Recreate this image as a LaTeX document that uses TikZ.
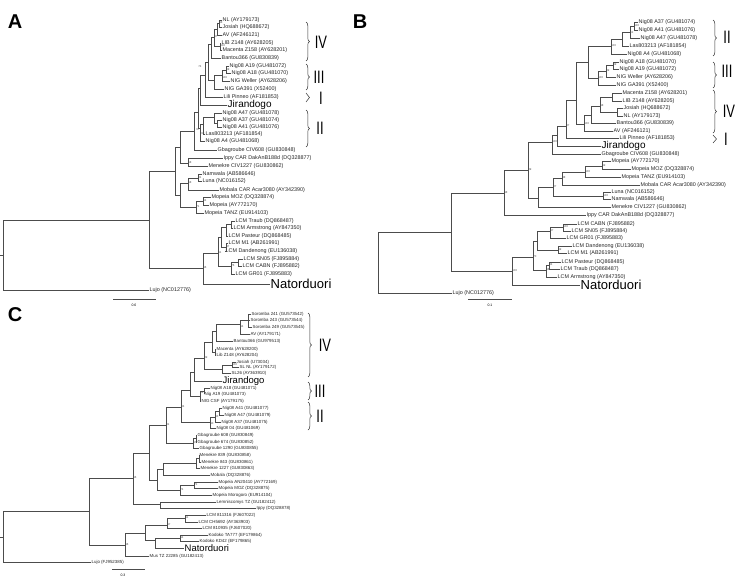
\documentclass[tikz,border=0pt]{standalone}
\usepackage{fontspec}
\setmainfont{Liberation Sans}
\usetikzlibrary{decorations.pathreplacing}
\newcommand\labfont{\fontsize{5.4}{6}\selectfont}
\newcommand\labcfont{\fontsize{4.4}{5}\selectfont}
\newcommand\bsfont{\fontsize{2.8}{3}\selectfont}
\newcommand\panfont{\fontsize{20}{20}\selectfont\bfseries}
\newcommand\romfont{\fontsize{18}{18}\selectfont}
\newcommand\tk[2]{\draw[br] (#1) |- (#2);}
\newcommand\tl[2]{\draw[br] (#1) |- (#2.west);}
\newcommand\rom[1]{\scalebox{0.72}[1]{#1}}
\tikzset{
 br/.style={draw=black!70, line width=0.6pt},
 lab/.style={anchor=west, inner sep=0.5pt, font=\labfont, text=black!85},
 labc/.style={anchor=west, inner sep=0.5pt, font=\labcfont, text=black!85},
 bigj/.style={anchor=west, inner sep=0.5pt, font=\fontsize{10}{10}\selectfont},
 bign/.style={anchor=west, inner sep=0.5pt, font=\fontsize{13}{13}\selectfont},
 bigc/.style={anchor=west, inner sep=0.5pt, font=\fontsize{9.5}{10}\selectfont},
 bs/.style={anchor=west, inner sep=0.2pt, font=\bsfont, text=black!70},
 rom/.style={font=\romfont, inner sep=0pt},
 brc/.style={decorate, decoration={brace, amplitude=3.5pt}, draw=black!80, line width=0.5pt},
 pan/.style={font=\panfont, inner sep=0pt},
 sc/.style={font=\fontsize{3.5}{4}\selectfont, inner sep=0pt}
}
\begin{document}
\begin{tikzpicture}[x=1pt,y=-1pt]
\useasboundingbox (0,0) rectangle (750,578);
\fill[white] (0,0) rectangle (750,578);
%================ PANEL A =================
\node[pan] (pA) at (15,22) {A};
\node[lab] (aT1) at (222,20) {NL (AY179173)};
\node[lab] (aT2) at (222,27) {Josiah (HQ688672)};
\node[lab] (aT3) at (222,35) {AV (AF246121)};
\node[lab] (aT4) at (221,43) {LIB Z148 (AY628205)};
\node[lab] (aT5) at (222,50) {Macenta Z158 (AY628201)};
\node[lab] (aT6) at (221,58) {Bantou366 (GU830839)};
\node[lab] (aT7) at (229,66) {Nig08 A19 (GU481072)};
\node[lab] (aT8) at (231,73) {Nig08 A18 (GU481070)};
\node[lab] (aT9) at (230,81) {NIG Weller (AY628206)};
\node[lab] (aT10) at (224,89) {NIG GA391 (X52400)};
\node[lab] (aT11) at (223,97) {Lili Pinneo (AF181853)};
\node[bigj] (aT12) at (227,105) {Jirandogo};
\node[lab] (aT13) at (222,113) {Nig08 A47 (GU481078)};
\node[lab] (aT14) at (222,120) {Nig08 A37 (GU481074)};
\node[lab] (aT15) at (222,127) {Nig08 A41 (GU481076)};
\node[lab] (aT16) at (205,134) {Las803213 (AF181854)};
\node[lab] (aT17) at (205,141) {Nig08 A4 (GU481068)};
\node[lab] (aT18) at (217,150) {Gbagroube CIV608 (GU830848)};
\node[lab] (aT19) at (223,158) {Ippy CAR DakAnB188d (DQ328877)};
\node[lab] (aT20) at (208,166) {Menekre CIV1227 (GU830862)};
\node[lab] (aT21) at (202,174) {Namwala (AB586646)};
\node[lab] (aT22) at (202,181) {Luna (NC016152)};
\node[lab] (aT23) at (219,190) {Mobala CAR Acar3080 (AY342390)};
\node[lab] (aT24) at (211,197) {Mopeia MOZ (DQ328874)};
\node[lab] (aT25) at (209,205) {Mopeia (AY772170)};
\node[lab] (aT26) at (204,213) {Mopeia TANZ (EU914103)};
\node[lab] (aT27) at (235,221) {LCM Traub (DQ868487)};
\node[lab] (aT28) at (233,228) {LCM Armstrong (AY847350)};
\node[lab] (aT29) at (228,236) {LCM Pasteur (DQ868485)};
\node[lab] (aT30) at (228,243) {LCM M1 (AB261991)};
\node[lab] (aT31) at (225,251) {LCM Dandenong (EU136038)};
\node[lab] (aT32) at (243,259) {LCM SN05 (FJ895884)};
\node[lab] (aT33) at (242,266) {LCM CABN (FJ895882)};
\node[lab] (aT34) at (235,274) {LCM GR01 (FJ895883)};
\node[bign] (aT35) at (270,284) {Natorduori};
\node[lab] (aT36) at (149,290) {Lujo (NC012776)};
\coordinate (aS) at (0,255);
\coordinate (aR) at (3,255);
\coordinate (aN1) at (149,220);
\coordinate (aOW) at (175,171);
\coordinate (aA1) at (180,147);
\coordinate (aA2) at (194,131);
\coordinate (aA3) at (198,112);
\coordinate (aJ) at (200,88);
\coordinate (aK) at (205,75);
\coordinate (aL) at (208,62);
\coordinate (aIV) at (211,44);
\coordinate (aIVa) at (214,37);
\coordinate (aIVb) at (217,29);
\coordinate (aNJ) at (219,23);
\coordinate (aLM) at (220,46);
\coordinate (aIII) at (214,80);
\coordinate (aIIIa) at (222,75);
\coordinate (aIIIb) at (226,70);
\coordinate (aII) at (200,128);
\coordinate (aIIb) at (203,124);
\coordinate (aIIc) at (214,117);
\coordinate (aIId) at (217,123);
\coordinate (aIM) at (188,163);
\coordinate (aMop) at (180,195);
\coordinate (aMNL) at (188,183);
\coordinate (aNL2) at (198,178);
\coordinate (aMM) at (196,207);
\coordinate (aMM2) at (203,201);
\coordinate (aLN) at (203,268);
\coordinate (aLCM) at (218,253);
\coordinate (aLA) at (221,237);
\coordinate (aLA1) at (226,227);
\coordinate (aTA) at (231,224);
\coordinate (aLA2) at (226,247);
\coordinate (aLB) at (231,266);
\coordinate (aSC) at (238,262);
\draw[br] (aS) -- (aR);
\tk{aR}{aN1} \tl{aR}{aT36}
\tk{aN1}{aOW} \tk{aN1}{aLN}
\tk{aOW}{aA1} \tk{aOW}{aMop}
\tk{aA1}{aA2} \tk{aA1}{aIM}
\tk{aA2}{aA3} \tl{aA2}{aT18}
\tk{aA3}{aJ} \tk{aA3}{aII}
\tk{aJ}{aK} \tl{aJ}{aT12}
\tk{aK}{aL} \tl{aK}{aT11}
\tk{aL}{aIV} \tk{aL}{aIII}
\tk{aIV}{aIVa} \tl{aIV}{aT6}
\tk{aIVa}{aIVb} \tk{aIVa}{aLM}
\tk{aIVb}{aNJ} \tl{aIVb}{aT3}
\tl{aNJ}{aT1} \tl{aNJ}{aT2}
\tl{aLM}{aT4} \tl{aLM}{aT5}
\tk{aIII}{aIIIa} \tl{aIII}{aT10}
\tk{aIIIa}{aIIIb} \tl{aIIIa}{aT9}
\tl{aIIIb}{aT7} \tl{aIIIb}{aT8}
\tk{aII}{aIIb} \tl{aII}{aT17}
\tk{aIIb}{aIIc} \tl{aIIb}{aT16}
\tl{aIIc}{aT13} \tk{aIIc}{aIId}
\tl{aIId}{aT14} \tl{aIId}{aT15}
\tl{aIM}{aT19} \tl{aIM}{aT20}
\tk{aMop}{aMNL} \tk{aMop}{aMM}
\tk{aMNL}{aNL2} \tl{aMNL}{aT23}
\tl{aNL2}{aT21} \tl{aNL2}{aT22}
\tk{aMM}{aMM2} \tl{aMM}{aT26}
\tl{aMM2}{aT24} \tl{aMM2}{aT25}
\tk{aLN}{aLCM} \tl{aLN}{aT35}
\tk{aLCM}{aLA} \tk{aLCM}{aLB}
\tk{aLA}{aLA1} \tk{aLA}{aLA2}
\tk{aLA1}{aTA} \tl{aLA1}{aT29}
\tl{aTA}{aT27} \tl{aTA}{aT28}
\tl{aLA2}{aT30} \tl{aLA2}{aT31}
\tk{aLB}{aSC} \tl{aLB}{aT34}
\tl{aSC}{aT32} \tl{aSC}{aT33}
% bootstrap A
\node[bs] (abs1) at (219,23) {98};
\node[bs] (abs2) at (214,37) {97};
\node[bs] (abs3) at (220,46) {100};
\node[bs] (abs4) at (198,67) {74};
\node[bs] (abs5) at (226,70) {99};
\node[bs] (abs6) at (222,78) {100};
\node[bs] (abs7) at (196,130) {97};
\node[bs] (abs8) at (201,134) {99};
\node[bs] (abs9) at (188,163) {58};
\node[bs] (abs10) at (198,178) {81};
\node[bs] (abs11) at (188,183) {58};
\node[bs] (abs12) at (203,201) {64};
\node[bs] (abs13) at (196,207) {71};
\node[bs] (abs14) at (218,253) {91};
\node[bs] (abs15) at (226,247) {97};
\node[bs] (abs16) at (231,266) {76};
\node[bs] (abs17) at (203,268) {96};
% scale A
\coordinate (asc1) at (113,299); \coordinate (asc2) at (156,299);
\draw[br] (asc1) -- (asc2);
\node[sc] (asl) at (134,305) {0.6};
% braces A
\coordinate (abIVa) at (306,22); \coordinate (abIVb) at (306,61);
\coordinate (abIIIa) at (306,64); \coordinate (abIIIb) at (306,90);
\coordinate (abIa) at (306,93); \coordinate (abIb) at (306,102);
\coordinate (abIIa) at (306,110); \coordinate (abIIb) at (306,147);
\draw[brc] (abIVa) -- (abIVb);
\draw[brc] (abIIIa) -- (abIIIb);
\draw[brc] (abIa) -- (abIb);
\draw[brc] (abIIa) -- (abIIb);
\node[rom] (arIV) at (321,42) {\rom{IV}};
\node[rom] (arIII) at (319,77) {\rom{III}};
\node[rom] (arI) at (321,98) {\rom{I}};
\node[rom] (arII) at (320,128) {\rom{II}};
%================ PANEL B =================
\node[pan] (pB) at (360,22) {B};
\node[lab] (bT1) at (638,22) {Nig08 A37 (GU481074)};
\node[lab] (bT2) at (638,30) {Nig08 A41 (GU481076)};
\node[lab] (bT3) at (640,38) {Nig08 A47 (GU481078)};
\node[lab] (bT4) at (629,46) {Las803213 (AF181854)};
\node[lab] (bT5) at (627,54) {Nig08 A4 (GU481068)};
\node[lab] (bT6) at (619,62) {Nig08 A18 (GU481070)};
\node[lab] (bT7) at (619,69) {Nig08 A19 (GU481072)};
\node[lab] (bT8) at (616,77) {NIG Weller (AY628206)};
\node[lab] (bT9) at (616,85) {NIG GA391 (X52400)};
\node[lab] (bT10) at (622,93) {Macenta Z158 (AY628201)};
\node[lab] (bT11) at (622,101) {LIB Z148 (AY628205)};
\node[lab] (bT12) at (623,108) {Josiah (HQ688672)};
\node[lab] (bT13) at (623,116) {NL (AY179173)};
\node[lab] (bT14) at (616,123) {Bantou366 (GU830839)};
\node[lab] (bT15) at (613,131) {AV (AF246121)};
\node[lab] (bT16) at (619,138) {Lili Pinneo (AF181853)};
\node[bigj] (bT17) at (601,146) {Jirandogo};
\node[lab] (bT18) at (601,154) {Gbagroube CIV608 (GU830848)};
\node[lab] (bT19) at (611,161) {Mopeia (AY772170)};
\node[lab] (bT20) at (631,169) {Mopeia MOZ (DQ328874)};
\node[lab] (bT21) at (621,177) {Mopeia TANZ (EU914103)};
\node[lab] (bT22) at (640,185) {Mobala CAR Acar3080 (AY342390)};
\node[lab] (bT23) at (611,192) {Luna (NC016152)};
\node[lab] (bT24) at (611,199) {Namwala (AB586646)};
\node[lab] (bT25) at (611,207) {Menekre CIV1227 (GU830862)};
\node[lab] (bT26) at (586,215) {Ippy CAR DakAnB188d (DQ328877)};
\node[lab] (bT27) at (577,224) {LCM CABN (FJ895882)};
\node[lab] (bT28) at (571,231) {LCM SN05 (FJ895884)};
\node[lab] (bT29) at (566,238) {LCM GR01 (FJ895883)};
\node[lab] (bT30) at (572,246) {LCM Dandenong (EU136038)};
\node[lab] (bT31) at (567,253) {LCM M1 (AB261991)};
\node[lab] (bT32) at (561,262) {LCM Pasteur (DQ868485)};
\node[lab] (bT33) at (560,269) {LCM Traub (DQ868487)};
\node[lab] (bT34) at (557,277) {LCM Armstrong (AY847350)};
\node[bign] (bT35) at (580,285) {Natorduori};
\node[lab] (bT36) at (452,293) {Lujo (NC012776)};
\coordinate (bR) at (378,262);
\coordinate (bMain) at (451,232);
\coordinate (bOW) at (504,193);
\coordinate (b89) at (528,170);
\coordinate (bLJG) at (552,142);
\coordinate (bLJ) at (557,135);
\coordinate (bLas) at (566,126);
\coordinate (bL1x) at (576,100);
\coordinate (bIIIII) at (588,62);
\coordinate (bII) at (611,46);
\coordinate (bIIa) at (622,39);
\coordinate (bIIb) at (630,32);
\coordinate (bIIc) at (634,26);
\coordinate (bIII) at (598,78);
\coordinate (bIIIa) at (606,71);
\coordinate (bIIIb) at (613,65);
\coordinate (bIVAV) at (584,124);
\coordinate (bIV) at (591,115);
\coordinate (bIVa) at (600,106);
\coordinate (bML) at (612,97);
\coordinate (bJN) at (617,112);
\coordinate (bMop) at (538,198);
\coordinate (bMop1) at (553,187);
\coordinate (bMop2) at (562,178);
\coordinate (bMopA) at (585,172);
\coordinate (bMopB) at (602,166);
\coordinate (bLN2) at (603,196);
\coordinate (bLN) at (512,271);
\coordinate (bLCM) at (533,257);
\coordinate (bLCa) at (537,241);
\coordinate (b87) at (550,231);
\coordinate (bCS) at (563,227);
\coordinate (bDM) at (558,250);
\coordinate (bPTA) at (546,270);
\coordinate (bPT) at (549,265);
\tk{bR}{bMain} \tl{bR}{bT36}
\tk{bMain}{bOW} \tk{bMain}{bLN}
\tk{bOW}{b89} \tl{bOW}{bT26}
\tk{b89}{bLJG} \tk{b89}{bMop}
\tk{bLJG}{bLJ} \tl{bLJG}{bT18}
\tk{bLJ}{bLas} \tl{bLJ}{bT17}
\tk{bLas}{bL1x} \tl{bLas}{bT16}
\tk{bL1x}{bIIIII} \tk{bL1x}{bIVAV}
\tk{bIIIII}{bII} \tk{bIIIII}{bIII}
\tk{bII}{bIIa} \tl{bII}{bT5}
\tk{bIIa}{bIIb} \tl{bIIa}{bT4}
\tk{bIIb}{bIIc} \tl{bIIb}{bT3}
\tl{bIIc}{bT1} \tl{bIIc}{bT2}
\tk{bIII}{bIIIa} \tl{bIII}{bT9}
\tk{bIIIa}{bIIIb} \tl{bIIIa}{bT8}
\tl{bIIIb}{bT6} \tl{bIIIb}{bT7}
\tk{bIVAV}{bIV} \tl{bIVAV}{bT15}
\tk{bIV}{bIVa} \tl{bIV}{bT14}
\tk{bIVa}{bML} \tk{bIVa}{bJN}
\tl{bML}{bT10} \tl{bML}{bT11}
\tl{bJN}{bT12} \tl{bJN}{bT13}
\tk{bMop}{bMop1} \tl{bMop}{bT25}
\tk{bMop1}{bMop2} \tk{bMop1}{bLN2}
\tk{bMop2}{bMopA} \tl{bMop2}{bT22}
\tk{bMopA}{bMopB} \tl{bMopA}{bT21}
\tl{bMopB}{bT19} \tl{bMopB}{bT20}
\tl{bLN2}{bT23} \tl{bLN2}{bT24}
\tk{bLN}{bLCM} \tl{bLN}{bT35}
\tk{bLCM}{bLCa} \tk{bLCM}{bPTA}
\tk{bLCa}{b87} \tk{bLCa}{bDM}
\tk{b87}{bCS} \tl{b87}{bT29}
\tl{bCS}{bT27} \tl{bCS}{bT28}
\tl{bDM}{bT30} \tl{bDM}{bT31}
\tk{bPTA}{bPT} \tl{bPTA}{bT34}
\tl{bPT}{bT32} \tl{bPT}{bT33}
% bootstrap B
\node[bs] (bbs1) at (634,26) {100};
\node[bs] (bbs2) at (630,33) {51};
\node[bs] (bbs3) at (611,46) {100};
\node[bs] (bbs4) at (613,65) {99};
\node[bs] (bbs5) at (606,71) {89};
\node[bs] (bbs6) at (598,78) {100};
\node[bs] (bbs7) at (600,106) {98};
\node[bs] (bbs8) at (584,124) {100};
\node[bs] (bbs9) at (566,126) {87};
\node[bs] (bbs10) at (552,142) {100};
\node[bs] (bbs11) at (528,170) {89};
\node[bs] (bbs12) at (504,193) {98};
\node[bs] (bbs13) at (602,166) {99};
\node[bs] (bbs14) at (585,172) {100};
\node[bs] (bbs15) at (562,178) {38};
\node[bs] (bbs16) at (553,187) {87};
\node[bs] (bbs17) at (603,196) {100};
\node[bs] (bbs18) at (563,227) {100};
\node[bs] (bbs19) at (550,231) {97};
\node[bs] (bbs20) at (558,250) {99};
\node[bs] (bbs21) at (533,257) {70};
\node[bs] (bbs22) at (549,265) {84};
\node[bs] (bbs23) at (546,270) {96};
\node[bs] (bbs24) at (512,271) {100};
% scale B
\coordinate (bsc1) at (468,299); \coordinate (bsc2) at (512,299);
\draw[br] (bsc1) -- (bsc2);
\node[sc] (bsl) at (490,305) {0.1};
% braces B
\coordinate (bbIIa) at (713,20); \coordinate (bbIIb) at (713,56);
\coordinate (bbIIIa) at (713,62); \coordinate (bbIIIb) at (713,88);
\coordinate (bbIVa) at (713,90); \coordinate (bbIVb) at (713,133);
\coordinate (bbIa) at (713,135); \coordinate (bbIb) at (713,143);
\draw[brc] (bbIIa) -- (bbIIb);
\draw[brc] (bbIIIa) -- (bbIIIb);
\draw[brc] (bbIVa) -- (bbIVb);
\draw[brc] (bbIa) -- (bbIb);
\node[rom] (brII) at (727,37) {\rom{II}};
\node[rom] (brIII) at (727,71) {\rom{III}};
\node[rom] (brIV) at (729,111) {\rom{IV}};
\node[rom] (brI) at (726,139) {\rom{I}};
%================ PANEL C =================
\node[pan] (pC) at (15,315) {C};
\node[labc] (cT1) at (251,314) {Soromba 241 (GU573542)};
\node[labc] (cT2) at (250,320) {Soromba 243 (GU573544)};
\node[labc] (cT3) at (252,327) {Soromba 249 (GU573545)};
\node[labc] (cT4) at (250,334) {AV (AY179171)};
\node[labc] (cT5) at (233,341) {Bantou366 (GU979513)};
\node[labc] (cT6) at (216,349) {Macenta (AY628200)};
\node[labc] (cT7) at (216,355) {Lib Z148 (AY628204)};
\node[labc] (cT8) at (236,362) {Josiah (U73034)};
\node[labc] (cT9) at (239,367) {SL NL (AY179172)};
\node[labc] (cT10) at (231,373) {SL26 (AY363910)};
\node[bigc] (cT11) at (222,381) {Jirandogo};
\node[labc] (cT12) at (210,388) {Nig08 A18 (GU481071)};
\node[labc] (cT13) at (204,394) {Nig A19 (GU481073)};
\node[labc] (cT14) at (201,401) {NIG CSF (AY179175)};
\node[labc] (cT15) at (222,408) {Nig08 A41 (GU481077)};
\node[labc] (cT16) at (224,415) {Nig08 A47 (GU481079)};
\node[labc] (cT17) at (221,422) {Nig08 A37 (GU481075)};
\node[labc] (cT18) at (216,428) {Nig08 04 (GU481069)};
\node[labc] (cT19) at (197,435) {Gbagroube 608 (GU830849)};
\node[labc] (cT20) at (197,442) {Gbagroube 674 (GU830852)};
\node[labc] (cT21) at (199,448) {Gbagroube 1290 (GU830855)};
\node[labc] (cT22) at (199,455) {Menekre 839 (GU830858)};
\node[labc] (cT23) at (201,462) {Menekre 843 (GU830861)};
\node[labc] (cT24) at (200,468) {Menekre 1227 (GU830863)};
\node[labc] (cT25) at (210,475) {Mobala (DQ328876)};
\node[labc] (cT26) at (218,482) {Mopeia AN20410 (AY772169)};
\node[labc] (cT27) at (218,488) {Mopeia MOZ (DQ328875)};
\node[labc] (cT28) at (212,495) {Mopeia Morogoro (EU914104)};
\node[labc] (cT29) at (216,502) {Lemniscomys TZ (GU182412)};
\node[labc] (cT30) at (256,508) {Ippy (DQ328878)};
\node[labc] (cT31) at (206,515) {LCM 811316 (FJ607022)};
\node[labc] (cT32) at (198,522) {LCM CH5692 (AY363903)};
\node[labc] (cT33) at (202,528) {LCM 810935 (FJ607020)};
\node[labc] (cT34) at (208,535) {Kodoko TA777 (EF179864)};
\node[labc] (cT35) at (199,541) {Kodoko KD42 (EF179865)};
\node[bigc] (cT36) at (184,548) {Natorduori};
\node[labc] (cT37) at (149,556) {Mus TZ 22285 (GU182413)};
\node[labc] (cT38) at (91,562) {Lujo (FJ952385)};
\coordinate (cS) at (0,537);
\coordinate (cR) at (3,537);
\coordinate (cMain) at (89,511);
\coordinate (cOW) at (133,478);
\coordinate (cLI) at (160,504);
\coordinate (c1) at (149,453);
\coordinate (c2) at (166,425);
\coordinate (cGb) at (193,443);
\coordinate (cGb2) at (196,438);
\coordinate (c3) at (157,480);
\coordinate (cMM) at (163,469);
\coordinate (cMen) at (196,463);
\coordinate (cMen2) at (199,458);
\coordinate (cMop) at (180,490);
\coordinate (cMopA) at (194,485);
\coordinate (cLM) at (125,545);
\coordinate (cLK) at (145,533);
\coordinate (cLCM) at (167,525);
\coordinate (cLCMa) at (185,518);
\coordinate (cKN) at (155,540);
\coordinate (cKod) at (180,538);
\coordinate (cLas) at (181,407);
\coordinate (cII) at (210,422);
\coordinate (cIIa) at (215,417);
\coordinate (cIIb) at (219,411);
\coordinate (cLin) at (190,390);
\coordinate (cIII) at (200,396);
\coordinate (cIIIa) at (204,391);
\coordinate (cIVJ) at (194,372);
\coordinate (cIV) at (204,358);
\coordinate (cSL) at (222,369);
\coordinate (cJS) at (232,365);
\coordinate (cIVa) at (212,342);
\coordinate (cML) at (215,352);
\coordinate (cIVb) at (216,331);
\coordinate (cSA) at (240,324);
\coordinate (cSor) at (248,320);
\draw[br] (cS) -- (cR);
\tk{cR}{cMain} \tl{cR}{cT38}
\tk{cMain}{cOW} \tk{cMain}{cLM}
\tk{cOW}{c1} \tk{cOW}{cLI}
\tl{cLI}{cT29} \tl{cLI}{cT30}
\tk{c1}{c2} \tk{c1}{c3}
\tk{c2}{cLas} \tk{c2}{cGb}
\tk{cGb}{cGb2} \tl{cGb}{cT21}
\tl{cGb2}{cT19} \tl{cGb2}{cT20}
\tk{c3}{cMM} \tk{c3}{cMop}
\tk{cMM}{cMen} \tl{cMM}{cT25}
\tk{cMen}{cMen2} \tl{cMen}{cT24}
\tl{cMen2}{cT22} \tl{cMen2}{cT23}
\tk{cMop}{cMopA} \tl{cMop}{cT28}
\tl{cMopA}{cT26} \tl{cMopA}{cT27}
\tk{cLM}{cLK} \tl{cLM}{cT37}
\tk{cLK}{cLCM} \tk{cLK}{cKN}
\tk{cLCM}{cLCMa} \tl{cLCM}{cT33}
\tl{cLCMa}{cT31} \tl{cLCMa}{cT32}
\tk{cKN}{cKod} \tl{cKN}{cT36}
\tl{cKod}{cT34} \tl{cKod}{cT35}
\tk{cLas}{cLin} \tk{cLas}{cII}
\tk{cII}{cIIa} \tl{cII}{cT18}
\tk{cIIa}{cIIb} \tl{cIIa}{cT17}
\tl{cIIb}{cT15} \tl{cIIb}{cT16}
\tk{cLin}{cIVJ} \tk{cLin}{cIII}
\tk{cIII}{cIIIa} \tl{cIII}{cT14}
\tl{cIIIa}{cT12} \tl{cIIIa}{cT13}
\tk{cIVJ}{cIV} \tl{cIVJ}{cT11}
\tk{cIV}{cIVa} \tk{cIV}{cSL}
\tk{cSL}{cJS} \tl{cSL}{cT10}
\tl{cJS}{cT8} \tl{cJS}{cT9}
\tk{cIVa}{cIVb} \tk{cIVa}{cML}
\tl{cML}{cT6} \tl{cML}{cT7}
\tk{cIVb}{cSA} \tl{cIVb}{cT5}
\tk{cSA}{cSor} \tl{cSA}{cT4}
\tl{cSor}{cT1} \tl{cSor}{cT2} \tl{cSor}{cT3}
% bootstrap C
\node[bs] (cbs1) at (133,478) {96};
\node[bs] (cbs2) at (125,545) {96};
\node[bs] (cbs3) at (166,425) {81};
\node[bs] (cbs4) at (181,407) {84};
\node[bs] (cbs5) at (200,393) {61};
\node[bs] (cbs6) at (204,358) {89};
\node[bs] (cbs7) at (232,365) {100};
\node[bs] (cbs8) at (240,327) {94};
\node[bs] (cbs9) at (215,417) {93};
\node[bs] (cbs10) at (210,424) {90};
\node[bs] (cbs11) at (193,443) {97};
\node[bs] (cbs12) at (194,485) {71};
\node[bs] (cbs13) at (180,490) {74};
\node[bs] (cbs14) at (185,518) {91};
\node[bs] (cbs15) at (167,525) {97};
\node[bs] (cbs16) at (180,538) {94};
% scale C
\coordinate (csc1) at (112,569); \coordinate (csc2) at (145,569);
\draw[br] (csc1) -- (csc2);
\node[sc] (csl) at (123,575) {0.3};
% braces C
\coordinate (cbIVa) at (308,313); \coordinate (cbIVb) at (308,377);
\coordinate (cbIIIa) at (308,382); \coordinate (cbIIIb) at (308,400);
\coordinate (cbIIa) at (308,402); \coordinate (cbIIb) at (308,430);
\draw[brc] (cbIVa) -- (cbIVb);
\draw[brc] (cbIIIa) -- (cbIIIb);
\draw[brc] (cbIIa) -- (cbIIb);
\node[rom] (crIV) at (325,345) {\rom{IV}};
\node[rom] (crIII) at (320,391) {\rom{III}};
\node[rom] (crII) at (320,416) {\rom{II}};
\end{tikzpicture}
\end{document}
